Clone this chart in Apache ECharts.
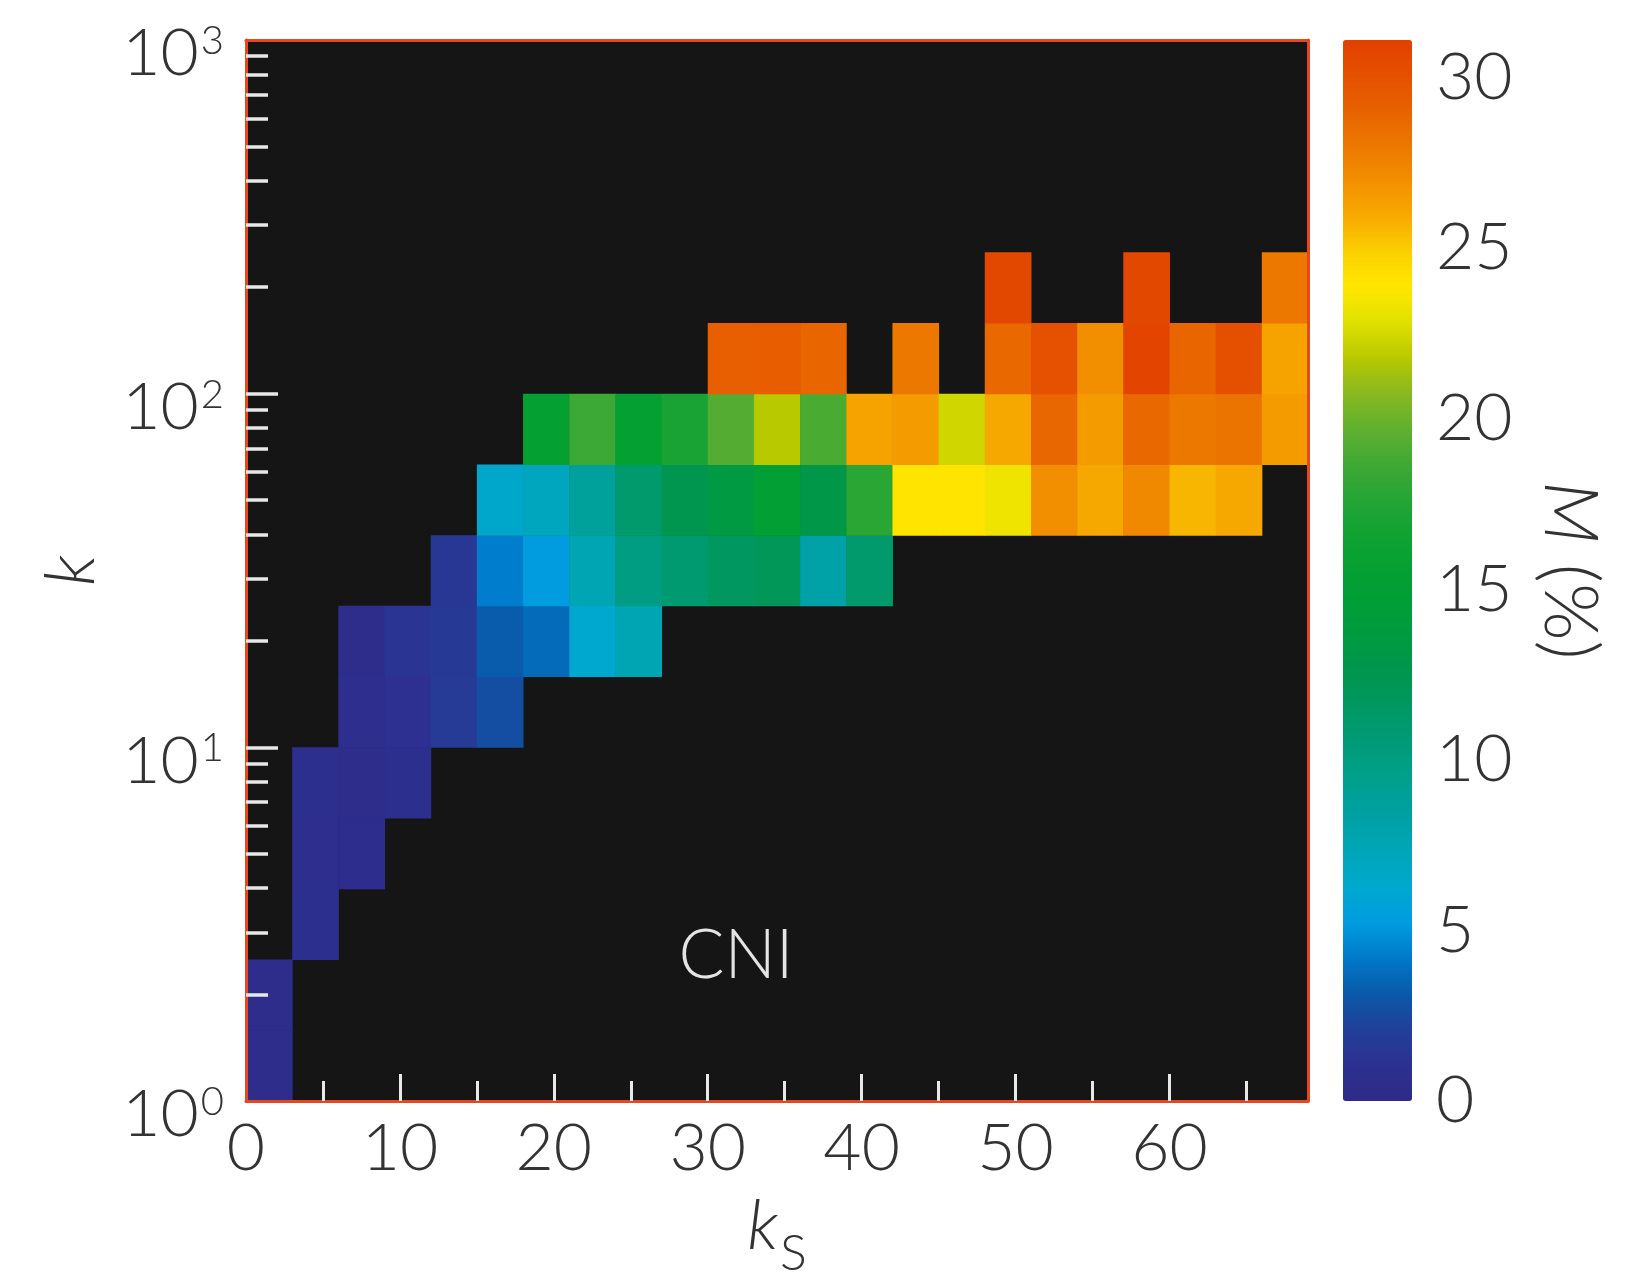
<!DOCTYPE html>
<html>
<head>
<meta charset="utf-8">
<script src="https://cdn.jsdelivr.net/npm/echarts@6/dist/echarts.min.js"></script>
<style>
  html, body { margin: 0; padding: 0; background: #fff; }
  #chart { width: 1633px; height: 1276px; }
</style>
</head>
<body>
<div id="chart"></div>
<script>
// k_S bins: left edges, each bin is 3 wide
const ksLeft = [0, 3, 6, 9, 12, 15, 18, 21, 24, 27, 30, 33, 36, 39, 42, 45, 48, 51, 54, 57, 60, 63, 66];
const ksWidth = 3;
// k bin edges (0.2 decade each)
const kEdges = [1, 1.585, 2.512, 3.981, 6.310, 10, 15.85, 25.12, 39.81, 63.10, 100, 158.5, 251.2, 398.1, 631.0, 1000];
// index of the lowest filled k bin for each k_S column
const firstBin = [0, 2, 3, 4, 5, 5, 6, 6, 6, 7, 7, 7, 7, 7, 8, 8, 8, 8, 8, 8, 8, 8, 9];
// M (%) of each filled cell, going up from firstBin
const mValues = [
  [0.5, 0.5],
  [0.8, 0.7, 0.9],
  [0.6, 0.5, 0.7, 0.5],
  [0.8, 1.0, 1.3],
  [1.8, 1.7, 1.5],
  [2.7, 3.2, 4.3, 6.5],
  [3.7, 5.2, 7.0, 15.5],
  [6.2, 7.5, 8.8, 18.5],
  [7.5, 10.0, 11.0, 15.5],
  [10.8, 12.5, 17.0],
  [11.6, 13.5, 19.3, 29.2],
  [12.0, 15.0, 21.8, 29.3],
  [8.2, 13.0, 19.0, 28.9],
  [11.0, 17.8, 26.2],
  [24.0, 26.5, 28.0],
  [24.0, 22.4],
  [23.3, 26.0, 28.7, 30.6],
  [27.0, 28.8, 30.0],
  [26.0, 26.5, 27.0],
  [27.3, 28.7, 30.8, 30.6],
  [25.6, 28.0, 28.9],
  [26.0, 28.2, 30.1],
  [26.5, 26.2, 28.0]
];
const xLabelValues = [0, 10, 20, 30, 40, 50, 60];
const xMajorTicks = [10, 20, 30, 40, 50, 60];
const xMinorTicks = [5, 15, 25, 35, 45, 55, 65];
const yLabelValues = [1, 10, 100, 1000];
const yMajorTicks = [10, 100];
const yMinorTicks = [2, 3, 4, 5, 6, 7, 8, 9, 20, 30, 40, 50, 60, 70, 80, 90, 200, 300, 400, 500, 600, 700, 800, 900];
const cbarLabels = [0, 5, 10, 15, 20, 25, 30];
const mMin = 0, mMax = 31.1;

// cells: [ks0, ks1, k0, k1, M]
const cells = [];
ksLeft.forEach((x0, c) => {
  mValues[c].forEach((m, j) => {
    const r = firstBin[c] + j;
    cells.push([x0, x0 + ksWidth, kEdges[r], kEdges[r + 1], m]);
  });
});

const textColor = '#333333';
const font = 'Lato';
const weight = 300;
const borderColor = '#e8461e';
const tickColor = '#e8e8e8';

const chart = echarts.init(document.getElementById('chart'));
const option = {
  backgroundColor: '#ffffff',
  animation: false,
  grid: [
    {
      left: 246, top: 40, width: 1062, height: 1061,
      show: true, backgroundColor: '#151515', borderWidth: 0,
      outerBoundsMode: 'none'
    },
    {
      left: 1343, top: 40, width: 69, height: 1061,
      show: false, outerBoundsMode: 'none'
    }
  ],
  xAxis: [
    {
      type: 'value', gridIndex: 0, position: 'bottom', min: 0, max: 69, z: 5,
      splitLine: {show: false},
      axisLine: {show: true, onZero: false, lineStyle: {color: borderColor, width: 3}},
      axisTick: {show: true, inside: true, length: 27, customValues: xMajorTicks,
        lineStyle: {color: tickColor, width: 3}},
      axisLabel: {show: true, customValues: xLabelValues, margin: 15,
        fontSize: 66, fontWeight: weight, fontFamily: font, color: textColor},
      name: '{i|k}{s|S}',
      nameLocation: 'middle',
      nameGap: 90,
      nameTextStyle: {
        rich: {
          i: {fontSize: 70, fontStyle: 'italic', fontWeight: weight, fontFamily: font, color: textColor,
            lineHeight: 70, verticalAlign: 'top'},
          s: {fontSize: 50, fontWeight: weight, fontFamily: font, color: textColor,
            lineHeight: 88, verticalAlign: 'bottom', padding: [0, 0, 0, 2]}
        }
      }
    },
    {
      type: 'value', gridIndex: 0, position: 'bottom', min: 0, max: 69, z: 5,
      splitLine: {show: false},
      axisLine: {show: false, onZero: false},
      axisTick: {show: true, inside: true, length: 20, customValues: xMinorTicks,
        lineStyle: {color: tickColor, width: 3}},
      axisLabel: {show: false}
    },
    {
      type: 'value', gridIndex: 0, position: 'top', min: 0, max: 69, z: 5,
      splitLine: {show: false},
      axisLine: {show: true, onZero: false, lineStyle: {color: borderColor, width: 3}},
      axisTick: {show: false},
      axisLabel: {show: false}
    },
    {
      type: 'value', gridIndex: 1, min: 0, max: 1, show: false
    }
  ],
  yAxis: [
    {
      type: 'log', logBase: 10, gridIndex: 0, position: 'left', min: 1, max: 1000, z: 5,
      splitLine: {show: false},
      axisLine: {show: true, onZero: false, lineStyle: {color: borderColor, width: 3}},
      axisTick: {show: true, inside: true, length: 32, customValues: yMajorTicks,
        lineStyle: {color: tickColor, width: 3.5}},
      axisLabel: {
        show: true, customValues: yLabelValues, margin: 22,
        padding: [28, 0, 0, 0],
        formatter: v => '{b|10}{s|' + Math.round(Math.log10(v)) + '}',
        rich: {
          b: {fontSize: 66, fontWeight: weight, fontFamily: font, color: textColor, lineHeight: 66},
          s: {fontSize: 40, fontWeight: weight, fontFamily: font, color: textColor, lineHeight: 48,
            verticalAlign: 'top', padding: [0, 0, 0, 2]}
        }
      },
      name: 'k',
      nameLocation: 'middle',
      nameGap: 140,
      nameTextStyle: {fontSize: 70, fontStyle: 'italic', fontWeight: weight, fontFamily: font, color: textColor}
    },
    {
      type: 'log', logBase: 10, gridIndex: 0, position: 'left', min: 1, max: 1000, z: 5,
      splitLine: {show: false},
      axisLine: {show: false, onZero: false},
      axisTick: {show: true, inside: true, length: 22, customValues: yMinorTicks,
        lineStyle: {color: tickColor, width: 3.5}},
      axisLabel: {show: false}
    },
    {
      type: 'log', logBase: 10, gridIndex: 0, position: 'right', min: 1, max: 1000, z: 5,
      splitLine: {show: false},
      axisLine: {show: true, onZero: false, lineStyle: {color: borderColor, width: 3}},
      axisTick: {show: false},
      axisLabel: {show: false}
    },
    {
      type: 'value', gridIndex: 1, position: 'right', min: mMin, max: mMax,
      splitLine: {show: false},
      axisLine: {show: false, onZero: false},
      axisTick: {show: false},
      axisLabel: {show: true, customValues: cbarLabels, margin: 24,
        fontSize: 66, fontWeight: weight, fontFamily: font, color: textColor},
      name: '{i|M} (%)',
      nameLocation: 'middle',
      nameRotate: -90,
      nameGap: 120,
      nameTextStyle: {
        fontSize: 74, fontWeight: weight, fontFamily: font, color: textColor,
        rich: {i: {fontSize: 74, fontStyle: 'italic', fontWeight: weight, fontFamily: font, color: textColor}}
      }
    }
  ],
  visualMap: {
    type: 'continuous',
    min: mMin, max: mMax,
    dimension: 4,
    seriesIndex: 0,
    calculable: false,
    hoverLink: false,
    orient: 'vertical',
    left: 1343, top: 40,
    itemWidth: 69, itemHeight: 1061,
    padding: 0,
    inRange: {
      color: [
        '#2e2a88', '#2d3090', '#223f98', '#0a58a8', '#0078c8', '#009ce0', '#00a8d0', '#00a6b8',
        '#00a0a5', '#00a090', '#009c7a', '#009865', '#009650', '#009a42', '#009e38', '#05a032',
        '#10a233', '#25a535', '#40a835', '#60b030', '#88b820', '#b8c800', '#e0e000', '#ffe800',
        '#fcd000', '#f7aa00', '#f29000', '#ec7800', '#e86200', '#e55000', '#e24000'
      ]
    }
  },
  graphic: [
    {
      type: 'text', x: 736, y: 956, z: 10,
      style: {text: 'CNI', fontSize: 68, fontWeight: weight, fontFamily: font, fill: '#e4e4e4',
        textAlign: 'center', textVerticalAlign: 'middle'}
    }
  ],
  series: [
    {
      type: 'custom',
      xAxisIndex: 0, yAxisIndex: 0,
      encode: {x: [0, 1], y: [2, 3]},
      data: cells,
      renderItem: (params, api) => {
        const p0 = api.coord([api.value(0), api.value(3)]);
        const p1 = api.coord([api.value(1), api.value(2)]);
        return {
          type: 'rect',
          shape: {x: p0[0], y: p0[1], width: p1[0] - p0[0] + 0.5, height: p1[1] - p0[1] + 0.5},
          style: {fill: api.visual('color')}
        };
      }
    }
  ]
};
chart.setOption(option);
</script>
</body>
</html>
